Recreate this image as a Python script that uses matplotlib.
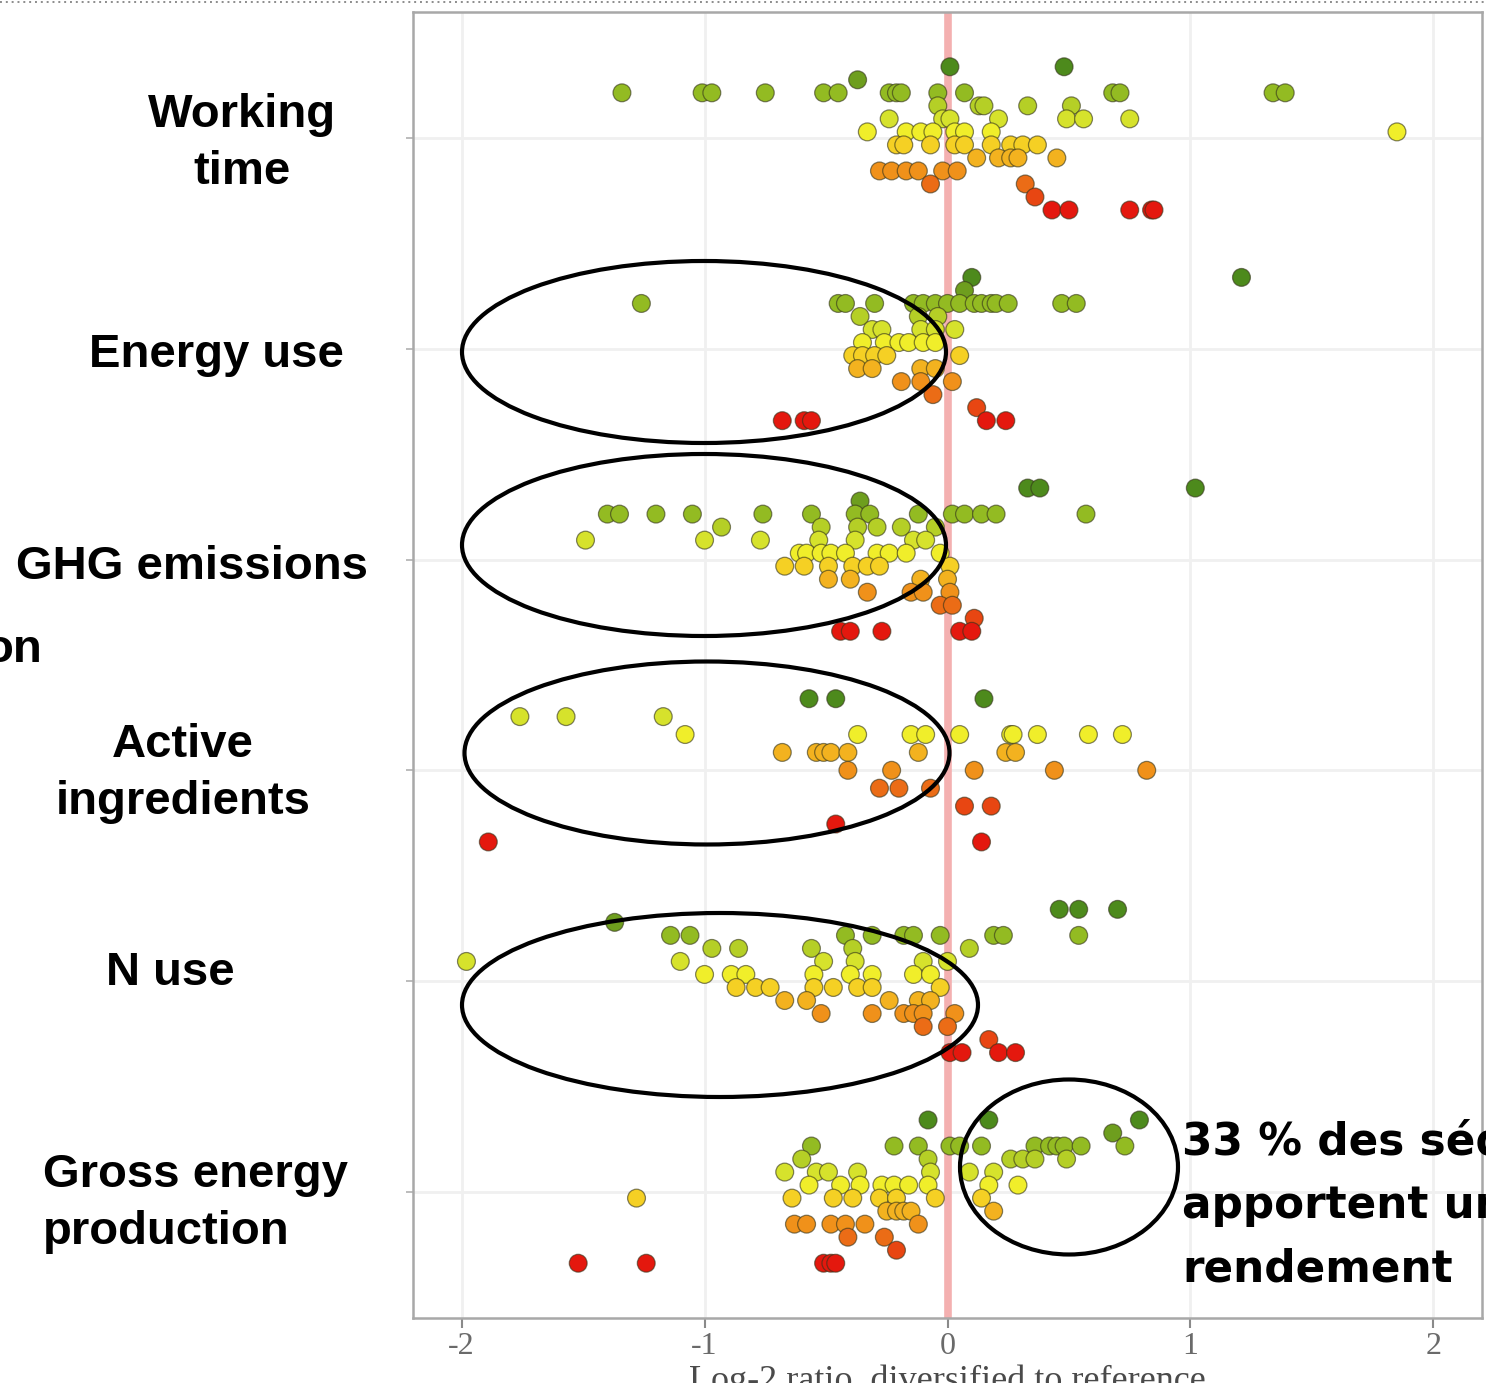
import matplotlib
matplotlib.use("Agg")
import matplotlib.pyplot as plt
from matplotlib.patches import Ellipse

W, H = 1486, 1383

CATEGORIES = ["Working time", "Energy use", "GHG emissions",
              "Active ingredients", "N use", "Gross energy production"]

# log2 ratio of each diversified sequence, grouped by score level (0 = best)
WORKING_TIME = [
    [0.01, 0.48],
    [-0.37],
    [-1.34, -1.01, -0.97, -0.75, -0.51, -0.45, -0.24, -0.21, -0.19, -0.04, 0.07, 0.68, 0.71, 1.34, 1.39],
    [-0.04, 0.13, 0.15, 0.33, 0.51],
    [-0.24, -0.02, 0.01, 0.21, 0.49, 0.56, 0.75],
    [-0.33, -0.17, -0.11, -0.06, 0.03, 0.07, 0.18, 1.85],
    [-0.21, -0.18, -0.07, 0.03, 0.07, 0.18, 0.26, 0.31, 0.37],
    [0.12, 0.21, 0.26, 0.29, 0.45],
    [-0.28, -0.23, -0.17, -0.12, -0.02, 0.04],
    [-0.07, 0.32],
    [0.36],
    [0.43, 0.50, 0.75, 0.84, 0.85],
]
ENERGY_USE = [
    [0.10, 1.21],
    [0.07],
    [-1.26, -0.45, -0.42, -0.30, -0.14, -0.10, -0.05, 0.00, 0.05, 0.11, 0.14, 0.18, 0.20, 0.25, 0.47, 0.53],
    [-0.36, -0.12, -0.04],
    [-0.31, -0.27, -0.11, -0.05, 0.03],
    [-0.35, -0.26, -0.20, -0.16, -0.10, -0.05],
    [-0.39, -0.35, -0.30, -0.25, 0.05],
    [-0.37, -0.31, -0.11, -0.05],
    [-0.19, -0.11, 0.02],
    [-0.06],
    [0.12],
    [-0.68, -0.59, -0.56, 0.16, 0.24],
]
GHG_EMISSIONS = [
    [0.33, 0.38, 1.02],
    [-0.36],
    [-1.40, -1.35, -1.20, -1.05, -0.76, -0.56, -0.38, -0.32, -0.12, 0.02, 0.07, 0.14, 0.20, 0.57],
    [-0.93, -0.52, -0.37, -0.29, -0.19, -0.05],
    [-1.49, -1.00, -0.77, -0.53, -0.38, -0.14, -0.09],
    [-0.61, -0.58, -0.52, -0.48, -0.42, -0.29, -0.24, -0.17, -0.03],
    [-0.67, -0.59, -0.49, -0.39, -0.33, -0.28, 0.01],
    [-0.49, -0.40, -0.11, 0.00],
    [-0.33, -0.15, -0.10, 0.01],
    [-0.03, 0.02],
    [0.11],
    [-0.44, -0.40, -0.27, 0.05, 0.10],
]
ACTIVE_INGREDIENTS = [
    [-0.57, -0.46, 0.15],
    [-1.76, -1.57, -1.17],
    [-1.08, -0.37, -0.15, -0.09, 0.05, 0.26, 0.27, 0.37, 0.58, 0.72],
    [-0.68, -0.54, -0.51, -0.48, -0.41, -0.12, 0.24, 0.28],
    [-0.41, -0.23, 0.11, 0.44, 0.82],
    [-0.28, -0.20, -0.07],
    [0.07, 0.18],
    [-0.46],
    [-1.89, 0.14],
]
N_USE = [
    [0.46, 0.54, 0.70],
    [-1.37],
    [-1.14, -1.06, -0.42, -0.31, -0.18, -0.14, -0.03, 0.19, 0.23, 0.54],
    [-0.97, -0.86, -0.56, -0.39, 0.09],
    [-1.98, -1.10, -0.51, -0.38, -0.10, 0.00],
    [-1.00, -0.89, -0.83, -0.55, -0.40, -0.31, -0.14, -0.07],
    [-0.87, -0.79, -0.73, -0.55, -0.47, -0.37, -0.31, -0.03],
    [-0.67, -0.58, -0.24, -0.12, -0.07],
    [-0.52, -0.31, -0.18, -0.14, -0.10, 0.03],
    [-0.10, 0.00],
    [0.17],
    [0.01, 0.06, 0.21, 0.28],
]
GROSS_ENERGY = [
    [-0.08, 0.17, 0.79],
    [0.68],
    [-0.56, -0.22, -0.12, 0.01, 0.05, 0.14, 0.36, 0.42, 0.45, 0.48, 0.55, 0.73],
    [-0.60, -0.08, 0.26, 0.31, 0.36, 0.49],
    [-0.67, -0.54, -0.49, -0.37, -0.07, 0.09, 0.19],
    [-0.57, -0.44, -0.36, -0.27, -0.22, -0.16, -0.08, 0.17, 0.29],
    [-1.28, -0.64, -0.47, -0.39, -0.28, -0.21, -0.05, 0.14],
    [-0.25, -0.21, -0.18, -0.15, 0.19],
    [-0.63, -0.58, -0.48, -0.42, -0.34, -0.12],
    [-0.41, -0.26],
    [-0.21],
    [-1.52, -1.24, -0.51, -0.48, -0.46],
]

LEVEL_COLORS = ["#4d8a1c", "#6e9e1e", "#93bb22", "#b5cf26", "#d6e22c", "#f0ee2a",
                "#f5d024", "#f3b21f", "#f0911a", "#eb6c16", "#e84612", "#e4180e"]
ACTIVE_SHADES = [0, 4, 5, 7, 8, 9, 10, 11, 11]

X_TICKS = [-2, -1, 0, 1, 2]
X_LABEL = "Log-2 ratio, diversified to reference"
NOTE_LINES = ["33 % des séquences", "apportent un gain de", "rendement"]

SERIES = [WORKING_TIME, ENERGY_USE, GHG_EMISSIONS, ACTIVE_INGREDIENTS, N_USE, GROSS_ENERGY]
SPREAD = 0.68  # vertical room given to the levels of one category


def level_points(levels, pos, shades=None):
    n = len(levels)
    xs, ys, cs = [], [], []
    for k, vals in enumerate(levels):
        y = pos + (k / (n - 1) - 0.5) * SPREAD
        shade = LEVEL_COLORS[shades[k] if shades else k]
        for v in vals:
            xs.append(v)
            ys.append(y)
            cs.append(shade)
    return xs, ys, cs


fig = plt.figure(figsize=(W / 100, H / 100), dpi=100)
fig.patch.set_facecolor("white")

ax = fig.add_axes([413 / W, 1 - 1318 / H, 1069 / W, 1306 / H])
ax.set_xlim(-2.2, 2.2)
ax.set_ylim(len(CATEGORIES) + 0.6, 0.4)
ax.set_xticks(X_TICKS)
ax.set_xticklabels([str(t) for t in X_TICKS], family="Liberation Serif",
                   fontsize=23, color="#6a6a6a")
ax.set_yticks(range(1, len(CATEGORIES) + 1))
ax.set_yticklabels([])
ax.tick_params(axis="x", length=7, width=1.5, color="#8a8a8a", pad=3)
ax.tick_params(axis="y", length=5, width=1.2, color="#b0b0b0")
ax.grid(True, color="#f0f0f0", linewidth=2)
ax.set_axisbelow(True)
for sp in ax.spines.values():
    sp.set_color("#a8a8a8")
    sp.set_linewidth(1.8)

ax.axvline(0, color="#f4b0b0", linewidth=5.5, zorder=1)

for i, levels in enumerate(SERIES):
    shades = ACTIVE_SHADES if levels is ACTIVE_INGREDIENTS else None
    xs, ys, cs = level_points(levels, i + 1, shades)
    ax.scatter(xs, ys, s=165, c=cs, edgecolors=(0.2, 0.2, 0.1, 0.6),
               linewidths=0.9, zorder=3)

# overlay in pixel units for the slide annotations
ov = fig.add_axes([0, 0, 1, 1], zorder=5)
ov.set_xlim(0, W)
ov.set_ylim(H, 0)
ov.axis("off")
ov.patch.set_alpha(0)

ov.plot([0, W], [2, 2], linestyle=(0, (1, 2)), color="#8c8c8c", linewidth=1.4)
ov.text(947, 1390, X_LABEL, family="Liberation Serif", fontsize=26,
        color="#4a4a4a", ha="center", va="baseline")

label_font = dict(family="Liberation Sans", fontweight="bold", fontsize=34, color="black")
cat_labels = [
    (["Working", "time"], 242, [127, 184], "center"),
    (["Energy use"], 216, [367], "center"),
    (["GHG emissions"], 192, [579], "center"),
    (["Active", "ingredients"], 183, [757, 814], "center"),
    (["N use"], 170, [985], "center"),
    (["Gross energy", "production"], 43, [1187, 1244], "left"),
]
for lines, x, baselines, ha in cat_labels:
    for line, yb in zip(lines, baselines):
        ov.text(x, yb, line, ha=ha, va="baseline", **label_font)
ov.text(42, 662, "on", ha="right", va="baseline", **label_font)

for cx, cy, w, h in [(704, 352, 484, 182), (704, 545, 484, 182),
                     (707, 753, 485, 183), (720, 1005, 516, 184),
                     (1069, 1167, 218, 175)]:
    ov.add_patch(Ellipse((cx, cy), w, h, fill=False, edgecolor="black", linewidth=3))

for j, line in enumerate(NOTE_LINES):
    ov.text(1182, 1155 + 63 * j, line, family="DejaVu Sans", fontweight="bold",
            fontsize=31.5, color="black", ha="left", va="baseline")

fig.savefig("out.png", dpi=100)
